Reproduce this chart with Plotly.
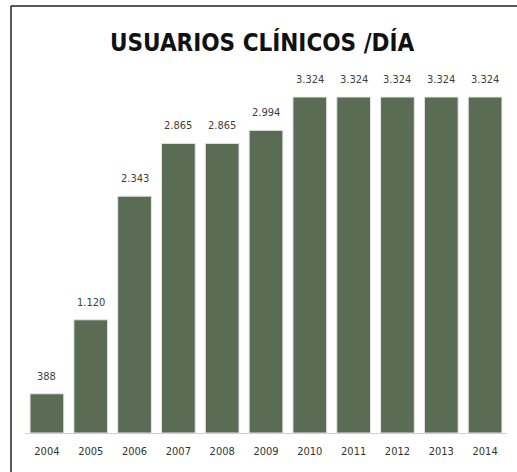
import plotly.graph_objects as go

years = ["2004", "2005", "2006", "2007", "2008", "2009", "2010", "2011", "2012", "2013", "2014"]
usuarios = [388, 1120, 2343, 2865, 2865, 2994, 3324, 3324, 3324, 3324, 3324]

bar_color = "#5b6c55"
narrow = "DejaVu Sans Condensed, Liberation Sans Narrow, Arial Narrow, sans-serif"

fig = go.Figure(
    go.Bar(
        x=years,
        y=usuarios,
        marker=dict(color=bar_color, line=dict(color="#e6e6e6", width=1)),
        hoverinfo="skip",
    )
)

# value labels above each bar (category index position), thousands separated with "."
for i, val in enumerate(usuarios):
    fig.add_annotation(
        x=i, y=val, xref="x", yref="y",
        text=f"{val:,}".replace(",", "."),
        showarrow=False, yanchor="bottom", yshift=9,
        font=dict(family=narrow, size=11, color="#404040"),
    )

fig.update_layout(
    width=517,
    height=472,
    paper_bgcolor="white",
    plot_bgcolor="white",
    margin=dict(l=25, r=10, t=60, b=39),
    bargap=0.23,
    showlegend=False,
    title=dict(
        text="<b>USUARIOS CLÍNICOS /DÍA</b>",
        x=0.507,
        xanchor="center",
        y=0.91,
        yanchor="middle",
        font=dict(family=narrow, size=24, color="#111111"),
    ),
    xaxis=dict(
        type="category",
        range=[-0.5, 10.5],
        showline=True,
        linecolor="#d0d0d0",
        linewidth=1,
        ticks="",
        ticklabelstandoff=8,
        showgrid=False,
        tickfont=dict(family=narrow, size=11, color="#333333"),
        fixedrange=True,
    ),
    yaxis=dict(
        range=[0, 3690],
        showticklabels=False,
        showline=False,
        zeroline=False,
        ticks="",
        showgrid=False,
        fixedrange=True,
    ),
    shapes=[
        dict(type="line", xref="paper", yref="paper",
             x0=-0.029, x1=1.03, y0=1.145, y1=1.145,
             line=dict(color="#222222", width=1.5)),
        dict(type="line", xref="paper", yref="paper",
             x0=-0.029, x1=-0.029, y0=1.145, y1=-0.11,
             line=dict(color="#222222", width=1.5)),
    ],
)

fig.write_html("out.html")
